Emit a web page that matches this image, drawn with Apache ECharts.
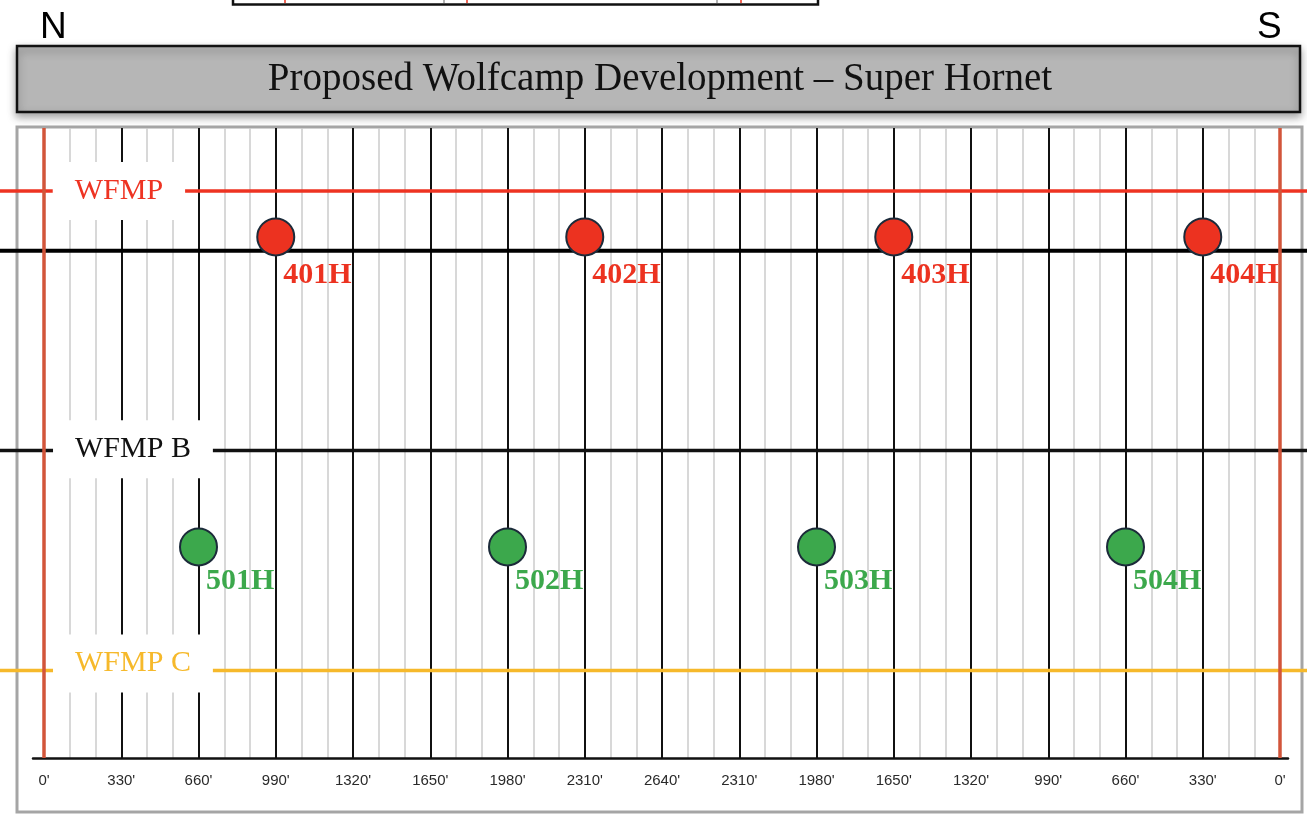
<!DOCTYPE html>
<html>
<head>
<meta charset="utf-8">
<title>Proposed Wolfcamp Development – Super Hornet</title>
<script src="https://cdn.jsdelivr.net/npm/echarts@6.0.0/dist/echarts.min.js"></script>
<style>
  html, body { margin: 0; padding: 0; background: #fff; }
  #chart { width: 1307px; height: 814px; }
</style>
</head>
<body>
<div id="chart"></div>
<script>
// section runs 0' .. 5280' (one mile), labelled from each end toward the middle
const tickLabels = ["0'", "330'", "660'", "990'", "1320'", "1650'", "1980'", "2310'", "2640'",
                    "2310'", "1980'", "1650'", "1320'", "990'", "660'", "330'", "0'"];
const sectionWidth = 5280;

// formation tops (relative depth, 0 = top of section box, 100 = base)
const formationNames = ['WFMP', 'WFMP B', 'WFMP C'];
const formationDepths = [10, 51.2, 86.1];
const formationLabelX = [320, 380, 380];
const formationLabelDepths = [10, 51, 85];
const landingDepth = 19.5;

// proposed laterals
const upperWells = ['401H', '402H', '403H', '404H'];
const upperWellX = [990, 2310, 3630, 4950];
const upperWellDepth = 17.3;
const lowerWells = ['501H', '502H', '503H', '504H'];
const lowerWellX = [660, 1980, 3300, 4620];
const lowerWellDepth = 66.5;

const COLORS = {
  wfmp: '#ee3322',
  wfmpB: '#111111',
  wfmpC: '#f6b92b',
  edge: '#d2553a',
  upper: '#ec3220',
  lower: '#3ca84c',
  rim: '#1c2b3a'
};
const formationColors = [COLORS.wfmp, COLORS.wfmpB, COLORS.wfmpC];

const SERIF = '"Liberation Serif", "Times New Roman", serif';
const SANS = '"Liberation Sans", Arial, sans-serif';

const chart = echarts.init(document.getElementById('chart'));

// grid 1 spans the whole page width, so formation lines run edge to edge
function hLine(name, depth, color, width) {
  return {
    name: name,
    type: 'line',
    xAxisIndex: 1,
    yAxisIndex: 1,
    silent: true,
    showSymbol: false,
    z: 3,
    lineStyle: { color: color, width: width },
    data: [[0, depth], [1, depth]]
  };
}

function wellSeries(name, names, xs, depth, color, labelDy) {
  return {
    name: name,
    type: 'scatter',
    z: 8,
    symbolSize: 37,
    itemStyle: { color: color, borderColor: COLORS.rim, borderWidth: 2, opacity: 1 },
    label: {
      show: true,
      position: [27, labelDy],
      align: 'left',
      verticalAlign: 'middle',
      color: color,
      fontFamily: SERIF,
      fontWeight: 'bold',
      fontSize: 30,
      formatter: (p) => p.value[2]
    },
    data: names.map((n, i) => [xs[i], depth, n])
  };
}

const series = [
  // bold ends of the section
  {
    name: 'edges',
    type: 'line',
    data: [],
    z: 4,
    markLine: {
      silent: true,
      symbol: 'none',
      label: { show: false },
      lineStyle: { color: COLORS.edge, width: 3.5, type: 'solid' },
      data: [{ xAxis: 0 }, { xAxis: sectionWidth }]
    }
  },
  hLine('WFMP', formationDepths[0], COLORS.wfmp, 3.5),
  hLine('landing', landingDepth, '#000', 4),
  hLine('WFMP B', formationDepths[1], COLORS.wfmpB, 3.5),
  hLine('WFMP C', formationDepths[2], COLORS.wfmpC, 3.5),
  // formation names sit on white boxes that break the lines
  {
    name: 'formation labels',
    type: 'scatter',
    z: 6,
    symbolSize: 0,
    itemStyle: { opacity: 1 },
    label: {
      show: true,
      position: 'inside',
      backgroundColor: '#fff',
      padding: [14, 22],
      fontFamily: SERIF,
      fontSize: 30,
      formatter: (p) => p.value[2]
    },
    data: formationNames.map((n, i) => ({
      value: [formationLabelX[i], formationLabelDepths[i], n],
      label: { color: formationColors[i] }
    }))
  },
  wellSeries('upper wells', upperWells, upperWellX, upperWellDepth, COLORS.upper, 58),
  wellSeries('lower wells', lowerWells, lowerWellX, lowerWellDepth, COLORS.lower, 54)
];

const depthAxis = (i) => ({ gridIndex: i, type: 'value', inverse: true, min: 0, max: 100, show: false });

const option = {
  backgroundColor: '#fff',
  animation: false,
  grid: [
    { left: 44, right: 27, top: 128, bottom: 56 },  // section
    { left: 0, right: 0, top: 128, bottom: 56 },    // full-width formation lines
    { left: 33, right: 19, top: 128, bottom: 56 }   // scale baseline
  ],
  xAxis: [
    {
      gridIndex: 0,
      type: 'value',
      min: 0,
      max: sectionWidth,
      interval: 330,
      axisLine: { show: false, onZero: false },
      axisTick: { show: false },
      axisLabel: {
        margin: 15,
        color: '#2a2a2a',
        fontFamily: SANS,
        fontSize: 15,
        formatter: (v, i) => tickLabels[i]
      },
      splitLine: { show: true, lineStyle: { color: '#111', width: 2 } },
      minorTick: { show: false, splitNumber: 3 },
      minorSplitLine: { show: true, lineStyle: { color: '#cbcbcb', width: 1.5 } }
    },
    { gridIndex: 1, type: 'value', min: 0, max: 1, show: false },
    {
      gridIndex: 2,
      type: 'value',
      min: 0,
      max: 1,
      axisLine: { show: true, onZero: false, lineStyle: { color: '#111', width: 2.5 } },
      axisTick: { show: false },
      axisLabel: { show: false },
      splitLine: { show: false }
    }
  ],
  yAxis: [depthAxis(0), depthAxis(1), depthAxis(2)],
  graphic: [
    // clipped piece of the map legend above
    {
      type: 'group',
      z: -5,
      children: [
        { type: 'rect', shape: { x: 233, y: -10, width: 585, height: 14.5 },
          style: { fill: '#fff', stroke: '#111', lineWidth: 2.5 } },
        { type: 'line', shape: { x1: 285, y1: -2, x2: 285, y2: 3 }, style: { stroke: '#e8321e', lineWidth: 1.5 } },
        { type: 'line', shape: { x1: 444, y1: -2, x2: 444, y2: 3 }, style: { stroke: '#999', lineWidth: 1.5 } },
        { type: 'line', shape: { x1: 467, y1: -2, x2: 467, y2: 3 }, style: { stroke: '#e8321e', lineWidth: 1.5 } },
        { type: 'line', shape: { x1: 717, y1: -2, x2: 717, y2: 3 }, style: { stroke: '#999', lineWidth: 1.5 } },
        { type: 'line', shape: { x1: 741, y1: -2, x2: 741, y2: 3 }, style: { stroke: '#e8321e', lineWidth: 1.5 } }
      ]
    },
    { type: 'text', z: 10, left: 40, top: 9,
      style: { text: 'N', font: '37px ' + SANS, fill: '#000' } },
    { type: 'text', z: 10, left: 1257, top: 9,
      style: { text: 'S', font: '37px ' + SANS, fill: '#000' } },
    // title banner
    {
      type: 'rect', z: -4,
      shape: { x: 17, y: 46, width: 1283, height: 66 },
      style: { fill: '#b6b6b6', stroke: '#111', lineWidth: 2.5,
               shadowBlur: 8, shadowOffsetY: 4, shadowColor: 'rgba(0,0,0,0.35)' }
    },
    {
      type: 'text', z: 10,
      x: 660, y: 80,
      style: {
        text: 'Proposed Wolfcamp Development – Super Hornet',
        font: '39px ' + SERIF,
        fill: '#111', align: 'center', verticalAlign: 'middle'
      }
    },
    // cross-section frame
    {
      type: 'rect', z: -10,
      shape: { x: 17, y: 127, width: 1285, height: 685 },
      style: { fill: '#fff', stroke: '#a5a5a5', lineWidth: 3 }
    }
  ],
  series: series
};

chart.setOption(option);
window.addEventListener('resize', () => chart.resize());
</script>
</body>
</html>
